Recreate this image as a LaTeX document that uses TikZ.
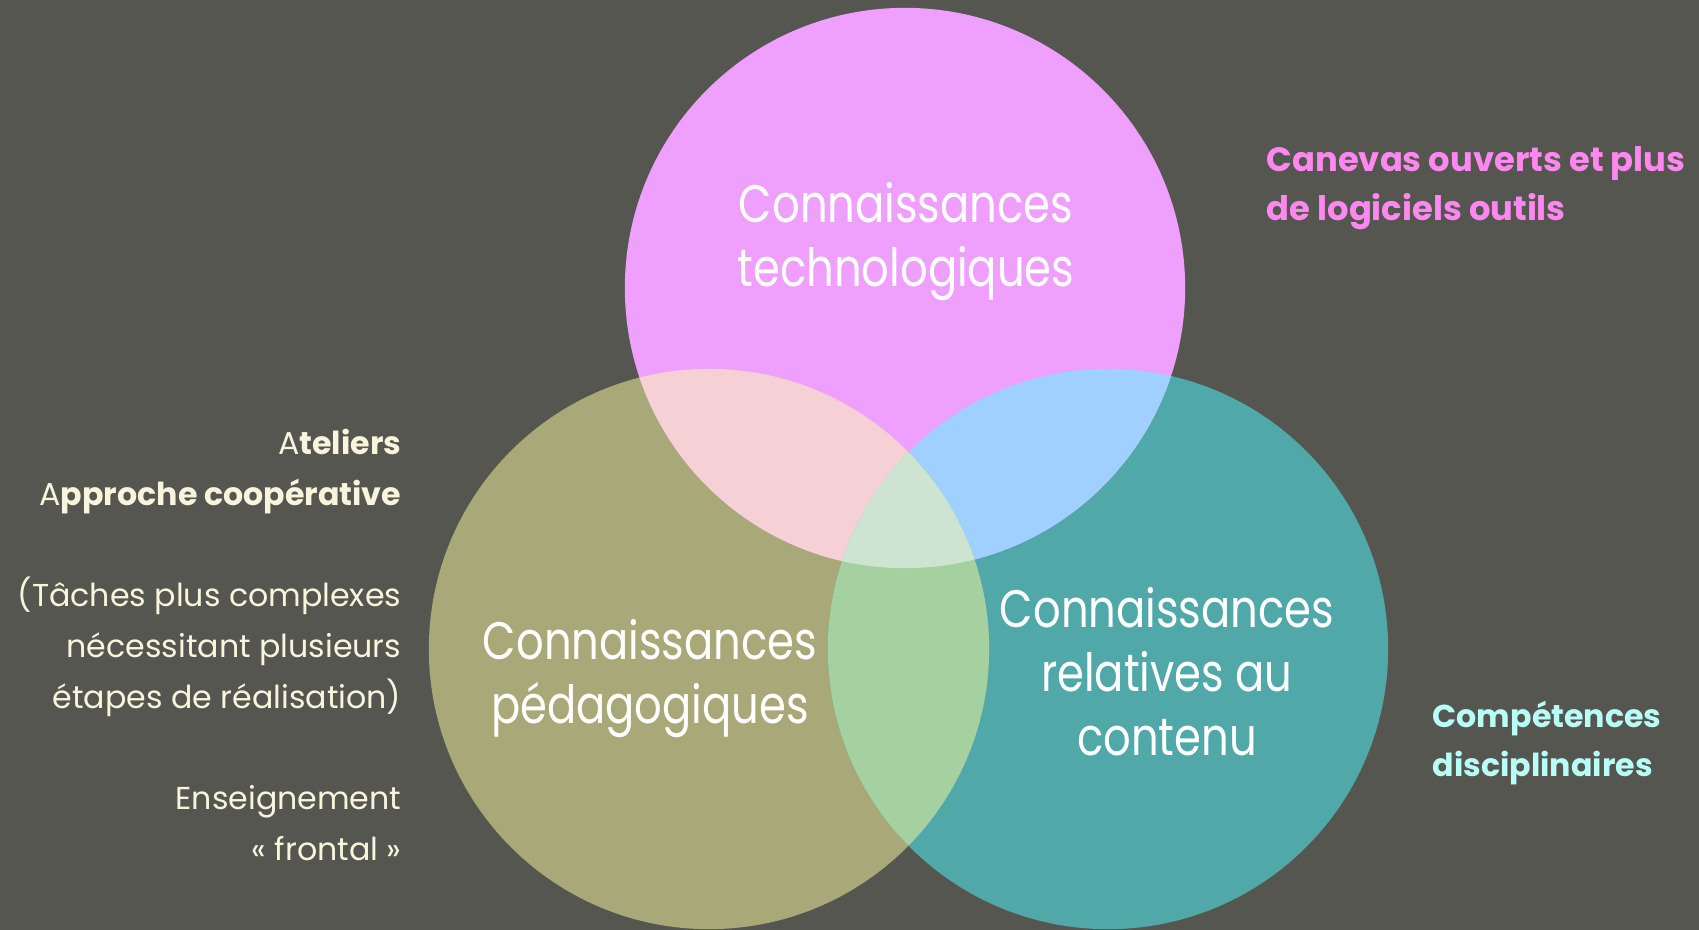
\documentclass[tikz,border=0pt]{standalone}
\usepackage{fontspec}
\setmainfont{Poppins}[FakeStretch=0.82]
\newfontfamily\notefont{Poppins}
\usetikzlibrary{positioning}
\definecolor{fond}{HTML}{565650}
\definecolor{techno}{HTML}{EFA0FF}
\definecolor{pedago}{HTML}{A8A878}
\definecolor{contenu}{HTML}{50A8A8}
\definecolor{tp}{HTML}{F5D0D5}
\definecolor{tc}{HTML}{A0D0FF}
\definecolor{pc}{HTML}{A5D0A0}
\definecolor{tpc}{HTML}{CDE5D0}
\definecolor{creme}{HTML}{F8F5DC}
\definecolor{rosevif}{HTML}{FF88F0}
\definecolor{cyanpale}{HTML}{B8FFF8}

\begin{document}
\begin{tikzpicture}[x=0.01cm,y=-0.01cm,
    titre/.style={text=white,align=center,inner sep=0pt,
      font=\fontsize{15}{18.2}\selectfont},
    note/.style={inner sep=0pt,font=\notefont\fontsize{9}{14.4}\selectfont}]
  \fill[fond] (0,0) rectangle (1699,930);
  \useasboundingbox (0,0) rectangle (1699,930);
  \coordinate (T) at (905,288);
  \coordinate (P) at (709,649);
  \coordinate (C) at (1108,649);
  % les trois cercles
  \fill[pedago] (P) circle (2.8cm);
  \fill[contenu] (C) circle (2.8cm);
  \fill[techno] (T) circle (2.8cm);
  % intersections
  \begin{scope}
    \clip (T) circle (2.8cm);
    \fill[tp] (P) circle (2.8cm);
    \fill[tc] (C) circle (2.8cm);
  \end{scope}
  \begin{scope}
    \clip (P) circle (2.8cm);
    \fill[pc] (C) circle (2.8cm);
    \clip (T) circle (2.8cm);
    \fill[tpc] (C) circle (2.8cm);
  \end{scope}
  % titres
  \node[titre] (technologiques) at (906,242) {Connaissances\\technologiques};
  \node[titre] (pedagogiques) at (650,679) {Connaissances\\pédagogiques};
  \node[titre] (relatives) at (1167,672) {Connaissances\\relatives au\\contenu};
  % notes
  \node[note,text=creme,align=right,anchor=east] (approches) at (402,645)
    {A\textbf{teliers}\\
     A\textbf{pproche coopérative}\\[14.4pt]
     (Tâches plus complexes\\
     nécessitant plusieurs\\
     étapes de réalisation)\\[14.4pt]
     Enseignement\\
     « frontal »};
  \node[note,text=rosevif,align=left,anchor=west,
    font=\notefont\fontsize{9.6}{14.1}\selectfont\bfseries]
    (canevas) at (1266,188) {Canevas ouverts et plus\\de logiciels outils};
  \node[note,text=cyanpale,align=left,anchor=west,
    font=\notefont\fontsize{9}{14.1}\selectfont\bfseries]
    (competences) at (1432,743) {Compétences\\disciplinaires};
\end{tikzpicture}
\end{document}
